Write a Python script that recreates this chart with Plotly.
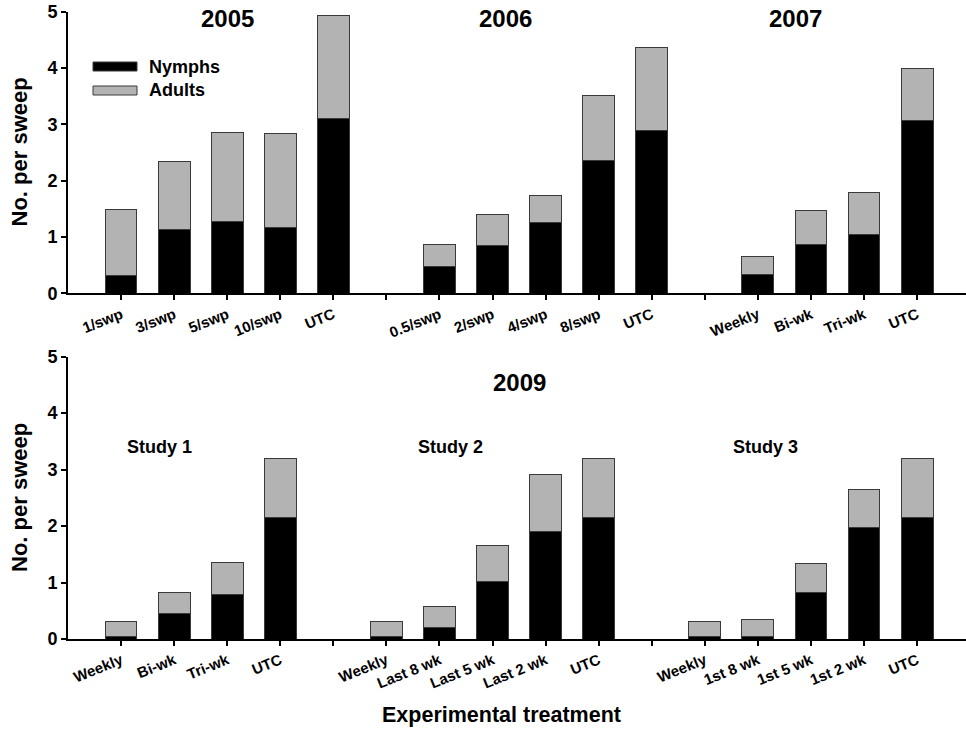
import plotly.graph_objects as go

# ---------------- data ----------------
cats_2005 = ["1/swp", "3/swp", "5/swp", "10/swp", "UTC"]
nymphs_2005 = [0.31, 1.13, 1.28, 1.17, 3.11]
adults_2005 = [1.17, 1.21, 1.57, 1.67, 1.83]

cats_2006 = ["0.5/swp", "2/swp", "4/swp", "8/swp", "UTC"]
nymphs_2006 = [0.47, 0.85, 1.26, 2.36, 2.89]
adults_2006 = [0.39, 0.55, 0.47, 1.15, 1.47]

cats_2007 = ["Weekly", "Bi-wk", "Tri-wk", "UTC"]
nymphs_2007 = [0.33, 0.86, 1.04, 3.07]
adults_2007 = [0.33, 0.61, 0.75, 0.92]

cats_study1 = ["Weekly", "Bi-wk", "Tri-wk", "UTC"]
nymphs_study1 = [0.05, 0.45, 0.79, 2.16]
adults_study1 = [0.26, 0.38, 0.57, 1.04]

cats_study2 = ["Weekly", "Last 8 wk", "Last 5 wk", "Last 2 wk", "UTC"]
nymphs_study2 = [0.05, 0.21, 1.01, 1.91, 2.16]
adults_study2 = [0.26, 0.36, 0.64, 1.01, 1.04]

cats_study3 = ["Weekly", "1st 8 wk", "1st 5 wk", "1st 2 wk", "UTC"]
nymphs_study3 = [0.05, 0.05, 0.83, 1.98, 2.16]
adults_study3 = [0.26, 0.29, 0.50, 0.66, 1.04]

top_groups = [(cats_2005, nymphs_2005, adults_2005),
              (cats_2006, nymphs_2006, adults_2006),
              (cats_2007, nymphs_2007, adults_2007)]
bottom_groups = [(cats_study1, nymphs_study1, adults_study1),
                 (cats_study2, nymphs_study2, adults_study2),
                 (cats_study3, nymphs_study3, adults_study3)]

FONT = "Liberation Sans, Arial, sans-serif"
NYMPH_COLOR = "#000000"
ADULT_COLOR = "#b3b3b3"
EDGE = "#3a3a3a"

W, H = 966, 732
X0 = 68        # pixel of y axis
SLOT = 53.07   # pixels per category slot


def px(sx):
    return sx / W


def py(sy):
    return 1 - sy / H


def layout_groups(groups):
    """Place groups side by side with an empty slot between them."""
    xs, nym, adu = [], [], []
    slot = 1
    tickvals, ticktext = [], []
    for gi, (cats, n, a) in enumerate(groups):
        for i, c in enumerate(cats):
            xs.append(slot)
            nym.append(n[i])
            adu.append(a[i])
            tickvals.append(slot)
            ticktext.append(c)
            slot += 1
        if gi < len(groups) - 1:
            tickvals.append(slot)
            ticktext.append("")
            slot += 1
    return xs, nym, adu, tickvals, ticktext


fig = go.Figure()

for row, groups in [(1, top_groups), (2, bottom_groups)]:
    xs, nym, adu, tv, tt = layout_groups(groups)
    xa = "x" if row == 1 else "x2"
    ya = "y" if row == 1 else "y2"
    fig.add_trace(go.Bar(x=xs, y=nym, name="Nymphs", marker=dict(color=NYMPH_COLOR, line=dict(color=EDGE, width=1)),
                         width=0.6, xaxis=xa, yaxis=ya, showlegend=False))
    fig.add_trace(go.Bar(x=xs, y=adu, name="Adults", marker=dict(color=ADULT_COLOR, line=dict(color=EDGE, width=1)),
                         width=0.6, xaxis=xa, yaxis=ya, showlegend=False))
    axis_x = dict(range=[0, (W - X0) / SLOT], domain=[px(X0), 1.0], tickmode="array", tickvals=tv, ticktext=tt,
                  tickangle=-22, ticks="outside", ticklen=5, tickwidth=2, tickcolor="black",
                  showline=True, linecolor="black", linewidth=2, showgrid=False, zeroline=False,
                  tickfont=dict(family=FONT, size=15, color="black", weight="bold"),
                  anchor=ya, automargin=False)
    if row == 1:
        ydom = [py(293.3), py(11.7)]
    else:
        ydom = [py(639), py(356.7)]
    axis_y = dict(range=[0, 5], domain=ydom, tickvals=[0, 1, 2, 3, 4, 5], ticks="outside", ticklen=5,
                  tickwidth=2, tickcolor="black", showline=True, linecolor="black", linewidth=2,
                  showgrid=False, zeroline=False,
                  tickfont=dict(family=FONT, size=18, color="black", weight="bold"), anchor=xa,
                  automargin=False)
    if row == 1:
        fig.update_layout(xaxis=axis_x, yaxis=axis_y)
    else:
        fig.update_layout(xaxis2=axis_x, yaxis2=axis_y)

annotations = []
def ann(text, x, y, size, xref="x", yref="paper", xanchor="center", **kw):
    annotations.append(dict(text=text, x=x, y=y, xref=xref, yref=yref, xanchor=xanchor, yanchor="middle",
                            showarrow=False, font=dict(family=FONT, size=size, color="black", weight="bold"), **kw))

ann("2005", 3.0, py(18), 24)
ann("2006", 8.25, py(18), 24)
ann("2007", 13.7, py(18), 24)
ann("2009", 8.5, py(382), 24, xref="x2")
for txt, xc in [("Study 1", 1.72), ("Study 2", 7.2), ("Study 3", 13.15)]:
    ann(txt, xc, py(447), 18, xref="x2")

for yc in [py(152.5), py(498)]:
    ann("No. per sweep", px(19), yc, 22, xref="paper", textangle=-90)

ann("Experimental treatment", px(502), py(715), 21.5, xref="paper")

# legend
ann("Nymphs", px(147), py(67), 18, xref="paper", xanchor="left")
ann("Adults", px(147), py(90.5), 18, xref="paper", xanchor="left")
shapes = [
    dict(type="rect", xref="paper", yref="paper", x0=px(93), x1=px(137), y0=py(71), y1=py(62),
         fillcolor=NYMPH_COLOR, line=dict(color=EDGE, width=1)),
    dict(type="rect", xref="paper", yref="paper", x0=px(93), x1=px(137), y0=py(95), y1=py(86),
         fillcolor=ADULT_COLOR, line=dict(color=EDGE, width=1)),
]

fig.update_layout(barmode="stack", width=W, height=H, margin=dict(l=0, r=0, t=0, b=0, autoexpand=False),
                  paper_bgcolor="white", plot_bgcolor="white", annotations=annotations, shapes=shapes,
                  bargap=0, hovermode=False)
fig.write_html("out.html", config={"displayModeBar": False, "staticPlot": True},
               post_script="document.body.style.margin='0';document.body.style.overflow='hidden';")
